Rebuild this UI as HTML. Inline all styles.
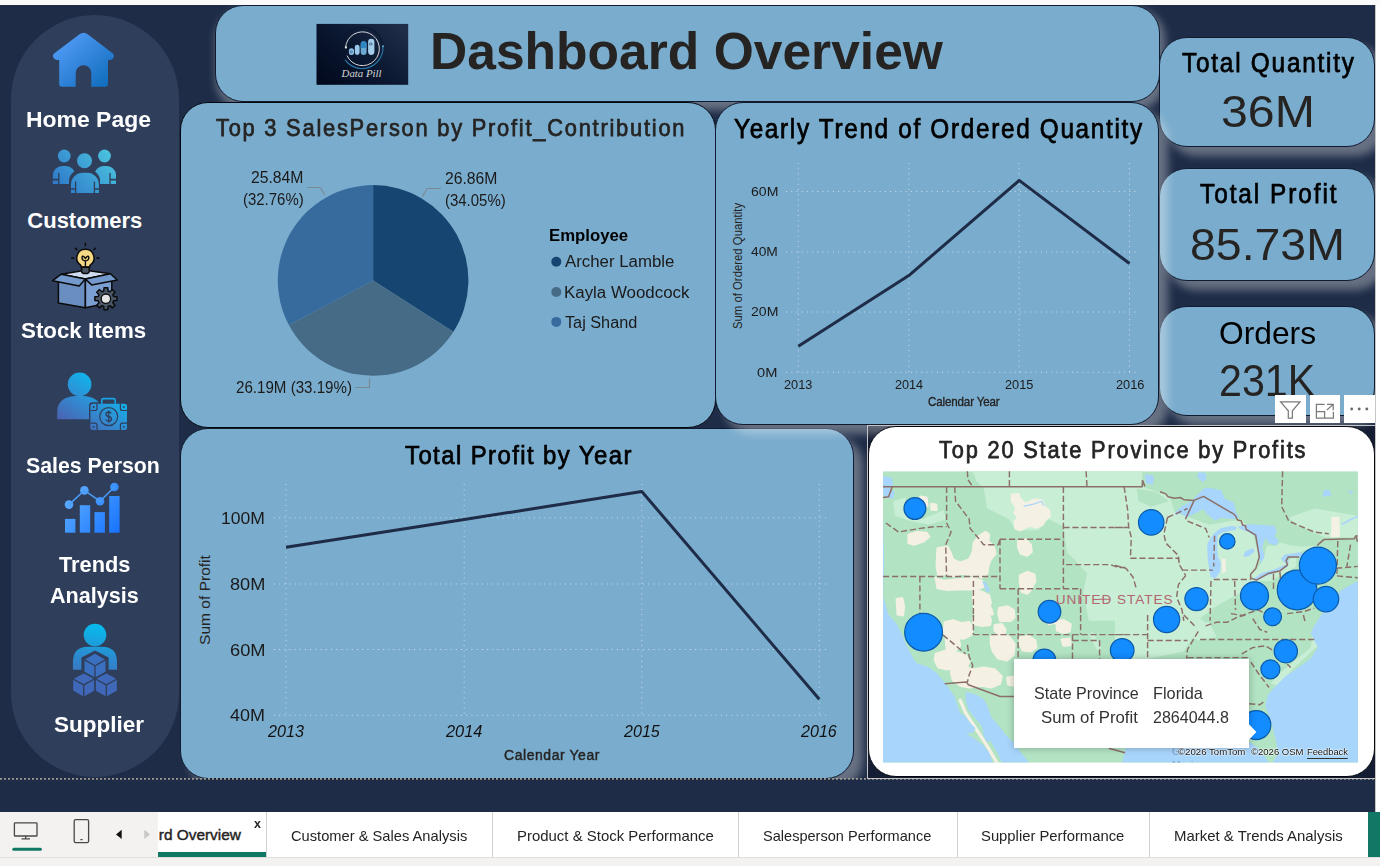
<!DOCTYPE html>
<html><head><meta charset="utf-8"><title>Dashboard Overview</title>
<style>
html,body{margin:0;padding:0}
body{width:1380px;height:866px;overflow:hidden;position:relative;background:#f3f2f1;font-family:"Liberation Sans",sans-serif;font-kerning:normal}
.abs{position:absolute}
.t{position:absolute;white-space:pre;line-height:1;font-kerning:normal;transform-origin:0 50%}
.pan{position:absolute;background:#7aaccd;border:1px solid #111a2e;border-radius:28px;box-sizing:border-box;box-shadow:9px 9px 9px rgba(255,255,255,.33)}
svg{position:absolute;overflow:visible}
</style></head><body>
<div class="abs" style="left:0;top:0;width:1380px;height:5px;background:#fafafa"></div>
<div id="canvas" class="abs" style="left:0;top:5px;width:1375px;height:807px;background:#1e2c47;overflow:hidden">
<div class="abs" style="left:11px;top:10px;width:168px;height:762px;border-radius:84px;background:#2f3e5a"></div>
</div>
<div class="abs" style="left:0;top:0;width:1375px;height:778.6px;overflow:hidden"><div class="abs" style="left:867.5px;top:425.5px;width:508px;height:353px;background:#141d33"></div><div class="pan" style="left:215px;top:5px;width:945px;height:97px;box-shadow:3px 6px 9px 1.5px rgba(255,255,255,.34);"></div>
<div class="pan" style="left:179.8px;top:102px;width:536.2px;height:326.2px;box-shadow:none;border:1.3px solid #05080f;"></div>
<div class="pan" style="left:179.8px;top:428.3px;width:674.0px;height:350.7px;"></div>
<div class="pan" style="left:1158.6px;top:37px;width:216.4000000000001px;height:110px;"></div>
<div class="pan" style="left:1158.6px;top:168px;width:216.4000000000001px;height:113px;"></div>
<div class="pan" style="left:1158.6px;top:306px;width:216.4000000000001px;height:110px;"></div>
<div class="pan" style="left:715px;top:102px;width:444px;height:323px;"></div>
</div><div class="t" style="left:430.45px;top:25.28px;font-size:52px;color:#252423;transform:scaleX(0.9916);font-weight:bold;">Dashboard Overview</div>
<svg style="left:0;top:0" width="1380" height="866"><defs><linearGradient id="lg1" x1="0" y1="0.85" x2="1" y2="0.15"><stop offset="0" stop-color="#020a1e"/><stop offset="0.55" stop-color="#0c1a33"/><stop offset="1" stop-color="#1f2d49"/></linearGradient></defs><rect x="316.5" y="23.9" width="91.7" height="60.9" fill="url(#lg1)"/><circle cx="362.2" cy="47.9" r="20.6" fill="none" stroke="#0a1830" stroke-width="1.6" opacity=".8"/><path d="M382.9,46.4 A20.8,20.8 0 0 1 345.2,59.8" fill="none" stroke="#2f7fb4" stroke-width="1.2" opacity=".9"/><circle cx="383" cy="46.2" r="1" fill="#69a8d4"/><path d="M345.6,47.4 A16.9,16.9 0 1 1 347,55.6" fill="none" stroke="#d4d6da" stroke-width="1"/><rect x="344.9" y="46.4" width="2" height="2" fill="#e8e8e8"/><rect x="348.9" y="48.3" width="5.1" height="6.6" rx="2.5" fill="#8cc2e6"/><rect x="354.8" y="44.7" width="4.8" height="10.2" rx="2.4" fill="#9acaea"/><rect x="360.7" y="41.2" width="5.9" height="13.7" rx="2.9" fill="#6aa9d4"/><path d="M360.7,48 V44.1 a2.95,2.95 0 0 1 5.9,0 V48 Z" fill="#2f86c0"/><rect x="368.1" y="38.8" width="6.3" height="16.1" rx="3.1" fill="#a3cdea"/><ellipse cx="370.8" cy="44" rx="1.5" ry="1" fill="none" stroke="#1c3555" stroke-width=".6"/><circle cx="351.3" cy="51.8" r="1.1" fill="none" stroke="#2a4a70" stroke-width=".6"/><text x="341.6" y="76.9" font-family="Liberation Serif,serif" font-style="italic" font-size="10.6" fill="#d6d6d6" textLength="40" lengthAdjust="spacingAndGlyphs">Data Pill</text></svg>
<div class="t" style="left:1181.51px;top:49.74px;font-size:27px;color:#000;letter-spacing:1.999px;transform:scaleX(0.9);-webkit-text-stroke:0.75px currentColor;">Total Quantity</div>
<div class="t" style="left:1221.01px;top:88.71px;font-size:45px;color:#252423;transform:scaleX(1.0723);">36M</div>
<div class="t" style="left:1199.51px;top:180.94px;font-size:27px;color:#000;letter-spacing:2.201px;transform:scaleX(0.9);-webkit-text-stroke:0.75px currentColor;">Total Profit</div>
<div class="t" style="left:1190.44px;top:221.91px;font-size:45px;color:#252423;transform:scaleX(1.0317);">85.73M</div>
<div class="t" style="left:1219.27px;top:317.98px;font-size:30.5px;color:#000;transform:scaleX(1.0415);">Orders</div>
<div class="t" style="left:1218.74px;top:358.31px;font-size:45px;color:#252423;transform:scaleX(0.9152);">231K</div>
<div class="t" style="left:215.56px;top:115.93px;font-size:24.3px;color:#252423;letter-spacing:1.953px;transform:scaleX(0.9);-webkit-text-stroke:0.75px currentColor;">Top 3 SalesPerson by Profit_Contribution</div>
<div class="t" style="left:734.31px;top:116.44px;font-size:27px;color:#000;letter-spacing:1.879px;transform:scaleX(0.9);-webkit-text-stroke:0.75px currentColor;">Yearly Trend of Ordered Quantity</div>
<div class="t" style="left:405.42px;top:442.08px;font-size:26.6px;color:#000;letter-spacing:1.572px;transform:scaleX(0.9);-webkit-text-stroke:0.75px currentColor;">Total Profit by Year</div>
<svg style="left:0;top:0" width="1380" height="866"><path d="M373.1,280.4 L373.10,185.10 A95.3,95.3 0 0 1 453.40,331.72 Z" fill="#174571"/><path d="M373.1,280.4 L453.40,331.72 A95.3,95.3 0 0 1 288.91,325.05 Z" fill="#456b86"/><path d="M373.1,280.4 L288.91,325.05 A95.3,95.3 0 0 1 373.10,185.10 Z" fill="#376b9e"/><path d="M422.4,196.4 L427.3,188.5 L441,188.5 M325.1,195.2 L320.2,187.5 L307.2,187.5 M369.5,378.2 L369.5,387.5 L355.2,387.5" fill="none" stroke="#7b8995" stroke-width="1.15"/><circle cx="556.3" cy="261.8" r="5" fill="#174571"/><circle cx="556.3" cy="292" r="5" fill="#456b86"/><circle cx="556.3" cy="321.9" r="5" fill="#376b9e"/></svg>
<div class="t" style="left:444.51px;top:170.66px;font-size:16px;color:#1a1a1a;transform:scaleX(0.9833);">26.86M</div>
<div class="t" style="left:444.70px;top:192.66px;font-size:16px;color:#1a1a1a;transform:scaleX(0.9343);">(34.05%)</div>
<div class="t" style="left:251.01px;top:170.06px;font-size:16px;color:#1a1a1a;transform:scaleX(0.9833);">25.84M</div>
<div class="t" style="left:242.80px;top:192.06px;font-size:16px;color:#1a1a1a;transform:scaleX(0.9343);">(32.76%)</div>
<div class="t" style="left:235.74px;top:380.46px;font-size:16px;color:#1a1a1a;transform:scaleX(0.9451);">26.19M (33.19%)</div>
<div class="t" style="left:548.71px;top:228.16px;font-size:16px;color:#000;transform:scaleX(1.0462);font-weight:bold;">Employee</div>
<div class="t" style="left:564.80px;top:254.36px;font-size:16px;color:#1a1a1a;transform:scaleX(1.0507);">Archer Lamble</div>
<div class="t" style="left:563.65px;top:284.76px;font-size:16px;color:#1a1a1a;transform:scaleX(1.0554);">Kayla Woodcock</div>
<div class="t" style="left:564.68px;top:315.16px;font-size:16px;color:#1a1a1a;transform:scaleX(1.0152);">Taj Shand</div>
<svg style="left:0;top:0" width="1380" height="866"><path d="M786,191.5 H1137 M786,252 H1137 M786,312 H1137 M786,372.3 H1137 M798.3,163 V372.3 M908.8,163 V372.3 M1019.2,163 V372.3 M1129.5,163 V372.3 " fill="none" stroke="rgba(255,255,255,.55)" stroke-width="1" stroke-dasharray="1.1 4.1"/><polyline points="798.3,346.3 908.8,275.6 1019.2,180.4 1129.5,263.5" fill="none" stroke="#1e2c47" stroke-width="3" stroke-linejoin="round" stroke-linecap="butt"/><path d="M273.8,517.8 H829.5 M273.8,584 H829.5 M273.8,649.5 H829.5 M273.8,715.3 H829.5 M286,484 V715.3 M464.2,484 V715.3 M641.8,484 V715.3 M819.3,484 V715.3 " fill="none" stroke="rgba(255,255,255,.55)" stroke-width="1" stroke-dasharray="1.1 4.1"/><polyline points="286,547.2 464.2,519.6 641.8,491.5 819.3,699.3" fill="none" stroke="#1e2c47" stroke-width="3" stroke-linejoin="round"/></svg>
<div class="t" style="left:750.50px;top:185.10px;font-size:13px;color:#1a1a1a;transform:scaleX(1.0807);">60M</div>
<div class="t" style="left:750.92px;top:245.20px;font-size:13px;color:#1a1a1a;transform:scaleX(1.0632);">40M</div>
<div class="t" style="left:750.50px;top:305.20px;font-size:13px;color:#1a1a1a;transform:scaleX(1.0807);">20M</div>
<div class="t" style="left:757.49px;top:365.90px;font-size:13px;color:#1a1a1a;transform:scaleX(1.1282);">0M</div>
<div class="t" style="left:784.06px;top:378.00px;font-size:13px;color:#1a1a1a;transform:scaleX(0.9800);">2013</div>
<div class="t" style="left:894.57px;top:378.00px;font-size:13px;color:#1a1a1a;transform:scaleX(0.9732);">2014</div>
<div class="t" style="left:1004.96px;top:378.00px;font-size:13px;color:#1a1a1a;transform:scaleX(0.9800);">2015</div>
<div class="t" style="left:1115.96px;top:378.00px;font-size:13px;color:#1a1a1a;transform:scaleX(0.9800);">2016</div>
<div class="t" style="left:927.62px;top:396.13px;font-size:12.6px;color:#252423;letter-spacing:-0.158px;transform:scaleX(0.92);-webkit-text-stroke:0.35px currentColor;">Calendar Year</div>
<div class="t" style="left:737.60px;top:266.40px;font-size:12.5px;color:#252423;transform:translate(-50%,-50%) rotate(-90deg) scaleX(0.9077);transform-origin:50% 50%">Sum of Ordered Quantity</div>
<div class="t" style="left:221.08px;top:510.00px;font-size:16.3px;color:#1a1a1a;transform:scaleX(1.0782);">100M</div>
<div class="t" style="left:229.77px;top:576.00px;font-size:16.3px;color:#1a1a1a;transform:scaleX(1.1161);">80M</div>
<div class="t" style="left:229.59px;top:641.50px;font-size:16.3px;color:#1a1a1a;transform:scaleX(1.1222);">60M</div>
<div class="t" style="left:230.14px;top:707.30px;font-size:16.3px;color:#1a1a1a;transform:scaleX(1.1040);">40M</div>
<div class="t" style="left:268.26px;top:723.33px;font-size:16.5px;color:#111;transform:scaleX(0.9784);font-style:italic;">2013</div>
<div class="t" style="left:446.36px;top:723.33px;font-size:16.5px;color:#111;transform:scaleX(0.9917);font-style:italic;">2014</div>
<div class="t" style="left:623.96px;top:723.33px;font-size:16.5px;color:#111;transform:scaleX(0.9740);font-style:italic;">2015</div>
<div class="t" style="left:801.46px;top:723.33px;font-size:16.5px;color:#111;transform:scaleX(0.9740);font-style:italic;">2016</div>
<div class="t" style="left:503.90px;top:746.93px;font-size:15.2px;color:#252423;letter-spacing:0.621px;transform:scaleX(0.92);-webkit-text-stroke:0.45px currentColor;">Calendar Year</div>
<div class="t" style="left:205.30px;top:599.80px;font-size:15.5px;color:#252423;transform:translate(-50%,-50%) rotate(-90deg) scaleX(1.0021);transform-origin:50% 50%">Sum of Profit</div>
<div class="t" style="left:25.81px;top:109.08px;font-size:22px;color:#ffffff;transform:scaleX(1.0425);font-weight:bold;">Home Page</div>
<div class="t" style="left:27.32px;top:209.98px;font-size:22px;color:#ffffff;font-weight:bold;">Customers</div>
<div class="t" style="left:21.24px;top:319.58px;font-size:22px;color:#ffffff;transform:scaleX(1.0139);font-weight:bold;">Stock Items</div>
<div class="t" style="left:25.67px;top:455.08px;font-size:22px;color:#ffffff;transform:scaleX(0.9685);font-weight:bold;">Sales Person</div>
<div class="t" style="left:58.78px;top:553.98px;font-size:22px;color:#ffffff;transform:scaleX(0.9906);font-weight:bold;">Trends</div>
<div class="t" style="left:49.76px;top:585.08px;font-size:22px;color:#ffffff;transform:scaleX(0.9820);font-weight:bold;">Analysis</div>
<div class="t" style="left:53.74px;top:713.58px;font-size:22px;color:#ffffff;transform:scaleX(1.0239);font-weight:bold;">Supplier</div>
<svg style="left:0;top:0" width="1380" height="866"><defs><linearGradient id="gh" x1="0" y1="0" x2="1" y2="1"><stop offset="0" stop-color="#5aa2ff"/><stop offset="1" stop-color="#0b69b8"/></linearGradient><linearGradient id="gc" gradientUnits="userSpaceOnUse" x1="56" y1="196" x2="112" y2="150"><stop offset="0" stop-color="#2c72c8"/><stop offset="1" stop-color="#4cc6de"/></linearGradient><linearGradient id="gs" gradientUnits="userSpaceOnUse" x1="108" y1="374" x2="72" y2="428"><stop offset="0" stop-color="#00c6f4"/><stop offset="0.55" stop-color="#2f8fd4"/><stop offset="1" stop-color="#4a62b2"/></linearGradient><linearGradient id="gt" gradientUnits="userSpaceOnUse" x1="66" y1="488" x2="120" y2="532"><stop offset="0" stop-color="#62b1ff"/><stop offset="1" stop-color="#1673ff"/></linearGradient><linearGradient id="gp" gradientUnits="userSpaceOnUse" x1="98" y1="624" x2="90" y2="690"><stop offset="0" stop-color="#05bcee"/><stop offset="0.55" stop-color="#2f86cc"/><stop offset="1" stop-color="#4466b6"/></linearGradient></defs><path d="M79.5,34.3 q4.1,-3.3 8.2,0 L112.6,53.2 q2.2,1.8 1,4.4 q-1,2.4 -3.6,2.4 H108 V84 q0,2.8 -2.8,2.8 H91.3 V73 a7.8,7.8 0 0 0 -15.6,0 V86.8 H62 q-2.8,0 -2.8,-2.8 V60 H57 q-2.6,0 -3.6,-2.4 q-1.2,-2.6 1,-4.4 Z" fill="url(#gh)"/><g fill="url(#gc)"><g><circle cx="64.2" cy="156" r="6.4"/><path d="M52.8,184 V175.45 a9.45,9.45 0 0 1 9.45,-9.45 H65.85 a9.45,9.45 0 0 1 9.45,9.45 V184 Z"/><circle cx="104.5" cy="156" r="6.4"/><path d="M94.4,184 V175.072 a9.071999999999997,9.071999999999997 0 0 1 9.071999999999997,-9.071999999999997 H106.928 a9.071999999999997,9.071999999999997 0 0 1 9.071999999999997,9.071999999999997 V184 Z"/></g></g><g fill="#2f3e5a"><circle cx="84.5" cy="160.7" r="9.3"/><path d="M69,195 V181 a11,11 0 0 1 11,-11 H89 a11,11 0 0 1 11,11 V195 Z"/></g><g fill="url(#gc)"><circle cx="84.5" cy="160.7" r="7.5"/><path d="M71,193 V184.518 a11.718000000000002,11.718000000000002 0 0 1 11.718000000000002,-11.718000000000002 H87.182 a11.718000000000002,11.718000000000002 0 0 1 11.718000000000002,11.718000000000002 V193 Z"/></g><g stroke="#2f3e5a" stroke-width="1.3" fill="none"><path d="M58.8,173 V184 M75.6,181.5 V193 M94.4,181.5 V193 M110,173 V184"/><path d="M52,179.6 H58.8 M110,179.6 H117 M70,189 H75.6 M94.4,189 H100" stroke-width="1.6"/></g><g stroke="#0b0b0b" stroke-width="1.5" stroke-linejoin="round"><path d="M61.2,274.2 L85.4,270.3 L110.4,273.8 L85.4,279.1 Z" fill="#cfdcf0"/><path d="M58.4,281.5 V302.9 L85.4,307.7 V279.1 Z" fill="#6a8ec0"/><path d="M85.4,279.1 V307.7 L111.8,302.2 V281.5 Z" fill="#7b9fd2"/><path d="M52.6,280.7 L61.2,274.2 L85.4,279.1 L79.2,286 Z" fill="#7399cd"/><path d="M85.4,279.1 L110.4,273.8 L117.3,280 L91.7,284.9 Z" fill="#7399cd"/></g><g stroke="#0b0b0b" stroke-width="1.5" stroke-linecap="round"><path d="M85.4,243.3 V245.6 M75.3,248.2 L77,249.8 M95.5,248.2 L93.8,249.8 M71.6,258 H73.8 M97,258 H99.2" fill="none"/><path d="M85.4,249.3 a8.6,8.6 0 0 1 5,15.6 q-0.8,0.8 -0.8,2 H81.2 q0,-1.2 -0.8,-2 a8.6,8.6 0 0 1 5,-15.6 Z" fill="#f5d984"/><path d="M81.6,267.2 H89.2 V271.2 q0,2.4 -3.8,2.4 q-3.8,0 -3.8,-2.4 Z" fill="#4a5563"/><path d="M85.4,266 V261 M85.4,261 q-3.6,-0.6 -3.4,-3.6 q0.4,-2 2,-0.6 l1.4,1.6 l1.4,-1.6 q1.6,-1.4 2,0.6 q0.2,3 -3.4,3.6" fill="none" stroke-width="1.4"/></g><path d="M113.61,296.57 L116.94,296.81 L116.94,300.59 L113.61,300.83 L112.86,302.64 L115.05,305.17 L112.37,307.85 L109.84,305.66 L108.03,306.41 L107.79,309.74 L104.01,309.74 L103.77,306.41 L101.96,305.66 L99.43,307.85 L96.75,305.17 L98.94,302.64 L98.19,300.83 L94.86,300.59 L94.86,296.81 L98.19,296.57 L98.94,294.76 L96.75,292.23 L99.43,289.55 L101.96,291.74 L103.77,290.99 L104.01,287.66 L107.79,287.66 L108.03,290.99 L109.84,291.74 L112.37,289.55 L115.05,292.23 L112.86,294.76 Z" fill="#4a5766" stroke="#0b0b0b" stroke-width="1.5" stroke-linejoin="round"/><circle cx="105.9" cy="298.7" r="4.7" fill="#e4e4e4" stroke="#0b0b0b" stroke-width="1.3"/><g fill="url(#gs)"><circle cx="79.6" cy="384.3" r="11.8"/><path d="M57.2,419.3 V412 q0,-16.2 22.4,-16.2 q15.4,0 20.4,8 V419.3 Z"/></g><rect x="89" y="402.3" width="39.4" height="29.1" rx="3.4" fill="#2f3e5a"/><rect x="99.8" y="396.7" width="17.4" height="8" rx="2.4" fill="#2f3e5a"/><g><rect x="90.4" y="403.7" width="36.6" height="26.3" rx="2.6" fill="url(#gs)"/><path d="M101.8,403.7 V400.2 q0,-1.6 1.6,-1.6 H113.6 q1.6,0 1.6,1.6 V403.7" fill="none" stroke="#17a4e4" stroke-width="1.6"/><g fill="none" stroke="#2f3e5a" stroke-width="1.2"><circle cx="108.7" cy="416.6" r="9"/><path d="M90.4,410.5 H95 q2,0 2,-2 V403.7 M127,410.5 H122.4 q-2,0 -2,-2 V403.7 M90.4,423.2 H95 q2,0 2,2 V430 M127,423.2 H122.4 q-2,0 -2,2 V430"/><path d="M111.2,413.6 q-0.6,-1.6 -2.6,-1.6 q-2.6,0 -2.6,2.2 q0,1.8 2.6,2.3 q2.8,0.5 2.8,2.4 q0,2.2 -2.8,2.2 q-2.2,0 -2.8,-1.7 M108.7,410.4 V422.8" stroke-width="1.3"/></g><g fill="#2f3e5a"><circle cx="93.6" cy="407" r="0.9"/><circle cx="123.8" cy="407" r="0.9"/><circle cx="93.6" cy="426.8" r="0.9"/><circle cx="123.8" cy="426.8" r="0.9"/></g></g><g fill="url(#gt)"><rect x="65" y="518.9" width="10.4" height="13.8"/><rect x="79.8" y="505.2" width="10.4" height="27.5"/><rect x="94.5" y="512.1" width="10.4" height="20.6"/><rect x="109.2" y="496" width="10.4" height="36.7"/><circle cx="69" cy="504.6" r="4.3"/><circle cx="84.4" cy="490.4" r="4.3"/><circle cx="100" cy="501.2" r="4.3"/><circle cx="114.4" cy="487" r="4.3"/></g><polyline points="69,504.6 84.4,490.4 100,501.2 114.4,487" fill="none" stroke="#4a9bf5" stroke-width="1.6"/><g fill="url(#gp)"><circle cx="95" cy="635.1" r="11.3"/><path d="M72.9,669.8 V662 q0,-15.3 15,-15.3 H102 q15,0 15,15.3 V669.8 Z"/></g><path d="M95,650.4 L108.6,657.4 V672 L95,679 L81.4,672 V657.4 Z" fill="#2f3e5a"/><path d="M95,653 L106.15,659.35 V672.05 L95,678.4 L83.85,672.05 V659.35 Z" fill="#3b70c0" stroke="#2f3e5a" stroke-width="1.3" stroke-linejoin="round"/><path d="M83.85,659.35 L95,665.7 L106.15,659.35 M95,665.7 V678.4" fill="none" stroke="#2f3e5a" stroke-width="1.3"/><path d="M83.7,672.6 L94.85000000000001,678.75 V691.0500000000001 L83.7,697.2 L72.55,691.0500000000001 V678.75 Z" fill="#4068b8" stroke="#2f3e5a" stroke-width="1.3" stroke-linejoin="round"/><path d="M72.55,678.75 L83.7,684.9 L94.85000000000001,678.75 M83.7,684.9 V697.2" fill="none" stroke="#2f3e5a" stroke-width="1.3"/><path d="M106.3,672.6 L117.45,678.75 V691.0500000000001 L106.3,697.2 L95.14999999999999,691.0500000000001 V678.75 Z" fill="#4068b8" stroke="#2f3e5a" stroke-width="1.3" stroke-linejoin="round"/><path d="M95.14999999999999,678.75 L106.3,684.9 L117.45,678.75 M106.3,684.9 V697.2" fill="none" stroke="#2f3e5a" stroke-width="1.3"/></svg>
<svg style="left:0;top:0" width="1380" height="866"><path d="M0,778.9 H1375" stroke="#a49f90" stroke-width="1.7" stroke-dasharray="1.9 2.1" fill="none"/></svg><div class="abs" style="left:0;top:812px;width:1380px;height:45px;background:#f3f2f1"></div><div class="abs" style="left:158px;top:812px;width:1209.5px;height:45px;background:#fff"></div><div class="abs" style="left:1367.5px;top:812px;width:12.5px;height:45px;background:#117865"></div><div class="abs" style="left:158px;top:852.4px;width:108.3px;height:4.6px;background:#117865"></div><div class="abs" style="left:0;top:857px;width:1380px;height:1px;background:#e1dfdd"></div><div class="abs" style="left:0;top:858px;width:1380px;height:8px;background:#f3f2f1"></div><div class="abs" style="left:266.3px;top:812px;width:1px;height:45px;background:#d2d0ce"></div><div class="abs" style="left:492px;top:812px;width:1px;height:45px;background:#d2d0ce"></div><div class="abs" style="left:738.3px;top:812px;width:1px;height:45px;background:#d2d0ce"></div><div class="abs" style="left:956.5px;top:812px;width:1px;height:45px;background:#d2d0ce"></div><div class="abs" style="left:1149.3px;top:812px;width:1px;height:45px;background:#d2d0ce"></div><div class="abs" style="left:158px;top:812px;width:108px;height:40px;overflow:hidden"><div class="t" style="left:0.80px;top:15.46px;font-size:15.4px;color:#252423;-webkit-text-stroke:0.45px currentColor;">rd Overview</div>
</div><div class="t" style="left:254.24px;top:817.46px;font-size:13.4px;color:#252423;transform:scaleX(0.9311);font-weight:bold;">x</div>
<div class="t" style="left:291.27px;top:827.60px;font-size:15px;color:#252423;transform:scaleX(0.9787);">Customer &amp; Sales Analysis</div>
<div class="t" style="left:516.80px;top:827.60px;font-size:15px;color:#252423;transform:scaleX(0.9962);">Product &amp; Stock Performance</div>
<div class="t" style="left:763.35px;top:827.60px;font-size:15px;color:#252423;transform:scaleX(0.9702);">Salesperson Performance</div>
<div class="t" style="left:981.33px;top:827.60px;font-size:15px;color:#252423;transform:scaleX(0.9877);">Supplier Performance</div>
<div class="t" style="left:1173.80px;top:827.60px;font-size:15px;color:#252423;transform:scaleX(0.9967);">Market &amp; Trends Analysis</div>
<svg style="left:0;top:0" width="1380" height="866"><g fill="none" stroke="#4a4846" stroke-width="1.3"><rect x="14.4" y="822.8" width="22.6" height="13.2" rx="0.6"/><path d="M25.7,836 V838.6 M21.5,838.8 H30"/><rect x="74.2" y="819.6" width="14.4" height="23" rx="1.6"/><path d="M80.4,839.6 H82.6"/></g><rect x="12.3" y="847.8" width="29.6" height="3" rx="1.5" fill="#117865"/><path d="M116,834.4 L121.7,829.8 V839 Z" fill="#111"/><path d="M150,834.4 L144.3,829.8 V839 Z" fill="#c8c6c4"/></svg>
<div class="abs" style="left:867px;top:425px;width:508.5px;height:353.5px;border:1px solid #c4c4c4;box-sizing:border-box"></div><div class="abs" style="left:868px;top:426px;width:506.6px;height:351.4px;background:#fff;border-radius:28px;border:1.2px solid #05080f;box-sizing:border-box"></div><div class="t" style="left:939.36px;top:438.31px;font-size:24.2px;color:#252423;letter-spacing:2.031px;transform:scaleX(0.9);-webkit-text-stroke:0.75px currentColor;">Top 20 State Province by Profits</div>
<svg style="left:0;top:0" width="1380" height="866"><defs><clipPath id="mc"><rect x="883" y="471.2" width="475" height="291.50000000000006"/></clipPath><filter id="soft" x="-5%" y="-5%" width="110%" height="110%"><feGaussianBlur stdDeviation="0.55"/></filter></defs><g clip-path="url(#mc)"><rect x="883" y="471.2" width="475" height="291.50000000000006" fill="#b2e3c3"/><path d="M972.8,471.0 L1125.0,471.0 L1125.0,620.8 L1088.8,620.8 L1083.3,591.8 L1087.0,573.7 L1067.0,552.0 L1063.4,526.6 L1063.4,488.6 L983.7,488.6 L976.4,481.3 Z M1115.0,471.0 L1142.2,471.0 L1142.2,486.7 L1169.3,495.8 L1174.8,512.1 L1209.2,524.8 L1241.8,519.3 L1252.7,533.8 L1259.9,559.2 L1250.9,577.3 L1278.0,566.4 L1296.2,555.6 L1296.2,566.4 L1270.8,580.9 L1252.7,580.9 L1241.8,591.8 L1216.4,606.3 L1196.5,620.8 L1115.0,620.8 Z M1115.0,615.0 L1196.5,615.0 L1209.2,625.9 L1192.9,636.7 L1183.8,651.2 L1147.6,659.0 L1115.0,659.0 Z M983.7,488.6 L1063.4,488.6 L1063.4,526.6 L1048.9,519.3 L1038.0,530.2 L1016.3,530.2 L1009.1,519.3 L987.3,508.5 Z M893.1,501.2 L905.8,497.6 L904.0,512.1 L922.1,519.3 L943.8,510.3 L945.7,519.3 L929.3,524.8 L911.2,521.2 L894.9,515.7 Z M1288.9,517.5 L1314.3,508.5 L1357.8,515.7 L1357.8,537.5 L1325.1,537.5 L1296.2,524.8 Z M1292.5,669.3 L1317.9,645.8 L1321.5,625.9 L1314.3,625.9 L1310.7,647.6 L1288.9,665.7 L1278.0,674.8 L1270.8,683.8 L1278.0,685.7 Z M1187.5,622.2 L1209.2,622.2 L1216.4,636.7 L1198.3,640.4 L1187.5,634.9 Z M1261.4,562.8 L1264.3,555.5 L1267.2,545.4 L1275.9,546.1 L1280.3,542.5 L1290.4,545.4 L1304.9,546.8 L1317.2,545.4 L1299.1,552.6 L1284.6,554.8 L1281.0,558.4 L1284.6,564.2 L1274.5,569.3 L1261.4,573.2 L1254.2,578.0 L1251.3,574.3 L1256.4,570.0 Z" fill="#c9eed6"/><path d="M1216.4,608.1 L1241.8,604.5 L1263.6,609.9 L1278.0,620.8 L1216.4,620.8 Z M1136.7,488.6 L1156.7,492.2 L1169.3,501.2 L1151.2,506.7 L1138.6,501.2 Z M1063.4,552.0 L1074.3,559.2 L1087.0,573.7 L1081.5,580.9 L1067.0,573.7 Z" fill="#b2e3c3"/><path d="M920.3,496.7 L926.6,497.6 L927.5,505.8 L921.2,506.7 Z M931.2,503.9 L936.2,504.5 L936.6,509.9 L931.5,509.6 Z M908.5,534.7 L916.7,532.0 L926.6,532.9 L929.3,536.6 L923.9,541.1 L913.9,544.7 L908.5,542.9 Z M937.5,548.3 L947.5,546.5 L951.1,553.8 L952.9,559.2 L960.1,562.8 L969.2,559.2 L972.8,552.0 L973.7,542.9 L978.3,536.6 L985.5,532.0 L989.1,534.7 L988.2,541.1 L993.7,546.5 L995.5,553.8 L990.9,559.2 L988.2,566.4 L987.3,573.7 L981.9,577.3 L972.8,575.5 L962.0,573.7 L952.9,576.4 L946.6,573.7 L938.4,575.5 L936.6,566.4 Z M935.7,578.2 L943.8,580.9 L960.1,579.1 L972.8,578.2 L981.9,580.9 L983.7,586.4 L976.4,590.0 L962.0,589.1 L947.5,590.0 L937.5,588.2 Z M973.7,590.0 L981.9,591.8 L989.1,595.4 L990.9,602.7 L988.2,609.9 L990.9,620.8 L976.4,620.8 L974.6,609.9 L972.8,599.1 Z M1011.8,494.9 L1018.1,494.0 L1019.9,498.5 L1025.4,503.9 L1034.4,499.4 L1041.7,500.3 L1044.4,506.7 L1048.9,510.3 L1049.8,516.6 L1045.3,519.3 L1042.6,524.8 L1036.2,527.5 L1029.0,525.7 L1019.9,530.2 L1015.4,528.4 L1014.5,522.1 L1018.1,517.5 L1014.5,513.0 L1016.3,507.6 L1011.8,501.2 Z M1018.1,541.1 L1025.4,539.3 L1030.8,544.7 L1031.7,552.0 L1027.2,555.6 L1020.8,553.8 L1018.1,547.4 Z M1019.9,575.5 L1027.2,571.9 L1034.4,574.6 L1035.3,580.9 L1030.8,590.0 L1027.2,593.6 L1021.7,591.8 L1019.9,582.8 Z M999.1,608.1 L1007.2,606.3 L1013.6,609.9 L1014.5,617.2 L1010.9,620.8 L1000.0,620.8 L998.2,613.6 Z M896.7,599.1 L902.2,598.2 L904.0,606.3 L903.1,615.4 L897.6,614.5 Z M944.7,622.2 L952.9,620.4 L962.0,623.2 L969.2,622.2 L972.8,627.7 L971.0,634.9 L963.8,638.6 L954.7,637.6 L947.5,639.5 L943.8,633.1 Z M972.8,618.6 L983.7,617.7 L990.9,620.4 L990.0,625.0 L981.9,625.9 L973.7,624.1 Z M994.6,625.0 L1001.8,624.1 L1005.4,629.5 L1004.5,634.9 L998.2,634.0 L994.6,630.4 Z M935.7,653.9 L943.8,651.2 L954.7,652.1 L965.6,654.9 L969.2,662.1 L965.6,669.3 L956.5,667.5 L947.5,669.3 L938.4,667.5 L934.8,660.3 Z M952.0,667.5 L962.0,665.7 L972.8,669.3 L983.7,667.5 L994.6,669.3 L1001.8,676.6 L1000.0,683.8 L990.9,687.5 L981.9,685.7 L969.2,687.5 L960.1,685.7 L952.9,680.2 L951.1,673.0 Z M990.9,636.7 L1000.0,634.9 L1009.1,636.7 L1014.5,644.0 L1013.6,654.9 L1007.2,660.3 L998.2,658.5 L992.8,651.2 L990.9,644.0 Z M1019.9,637.6 L1029.0,635.8 L1035.3,640.4 L1036.2,647.6 L1030.8,651.2 L1022.6,650.3 L1019.9,644.0 Z M1056.2,621.3 L1063.4,620.1 L1070.7,624.1 L1069.7,631.3 L1063.4,633.1 L1057.1,630.4 Z M1061.6,639.5 L1069.7,638.6 L1070.7,644.9 L1063.4,645.8 Z M1045.3,615.0 L1058.0,615.0 L1057.1,622.2 L1048.9,624.1 Z M1007.2,677.5 L1014.5,676.6 L1014.5,685.7 L1008.2,684.7 Z M916.7,626.8 L925.7,625.0 L934.8,629.5 L933.0,636.7 L923.9,638.6 L917.6,634.9 Z M945.7,637.6 L958.3,636.7 L960.1,645.8 L954.7,651.2 L946.6,649.4 Z M976.4,609.6 L990.9,607.8 L992.8,614.1 L983.7,615.9 Z" fill="#f4f1e4" stroke="#f4f1e4" stroke-width="2.2" stroke-linejoin="round" filter="url(#soft)"/><path d="M960.1,700.1 L965.6,712.8 L977.4,730.9 L989.1,749.1 L996.7,762.6" fill="none" stroke="#f4f1e4" stroke-width="3.2" stroke-linecap="round"/><path d="M1090.6,633.1 L1099.6,649.4" fill="none" stroke="#c9eed6" stroke-width="5"/><path d="M883.0,513.6 L884.1,560.7 L883.3,596.9 L888.6,615.0 L896.7,624.1 L902.2,634.9 L906.7,645.8 L913.9,659.4 L916.7,663.0 L929.3,667.5 L936.6,673.0 L945.7,683.8 L954.7,696.5 L957.4,705.6 L960.1,712.8 L965.6,716.4 L971.0,723.7 L975.5,728.2 L972.8,732.8 L966.5,733.7 L976.4,740.0 L983.7,745.4 L989.1,752.7 L992.8,762.6 L883.0,762.6 Z M883.0,475.9 L892.2,477.7 L893.1,484.9 L889.5,488.6 L894.9,492.2 L893.1,498.5 L885.9,497.6 L883.0,494.0 Z M965.6,692.0 L976.4,694.7 L983.7,699.2 L987.3,705.6 L990.9,716.4 L1000.0,727.3 L1005.4,734.6 L1012.7,741.8 L1019.9,750.9 L1029.0,762.6 L1001.8,762.6 L998.2,754.5 L990.9,741.8 L983.7,730.9 L980.1,723.7 L973.7,716.4 L968.3,709.2 L965.6,700.1 Z M1125.9,747.2 L1169.3,740.0 L1191.1,741.8 L1223.7,738.2 L1241.8,740.0 L1249.1,741.8 L1258.1,748.2 L1261.7,752.7 L1267.2,759.9 L1269.0,762.6 L1122.2,762.6 L1123.7,756.3 Z M1322.4,613.2 L1314.3,625.9 L1310.7,633.1 L1317.9,647.6 L1310.7,658.5 L1296.2,669.3 L1285.3,676.6 L1274.4,687.5 L1268.1,694.7 L1265.4,705.6 L1269.0,716.4 L1272.6,727.3 L1276.2,741.8 L1278.0,752.7 L1274.4,759.9 L1272.6,762.6 L1357.8,762.6 L1357.8,613.2 Z M1357.8,580.9 L1341.4,590.0 L1328.8,602.7 L1323.3,612.6 L1322.4,620.8 L1357.8,620.8 Z M1174.5,513.5 L1181.7,506.2 L1191.2,501.2 L1203.5,488.8 L1207.8,487.4 L1220.9,490.3 L1225.2,499.0 L1233.9,502.6 L1236.1,512.0 L1239.0,517.8 L1232.5,519.3 L1220.9,517.8 L1215.1,520.7 L1206.4,513.5 L1203.5,509.1 L1194.8,513.5 L1186.1,517.8 L1181.7,513.5 L1175.9,514.9 Z M1207.1,543.9 L1210.7,538.1 L1214.3,533.0 L1220.9,528.0 L1232.5,525.8 L1236.8,527.2 L1235.4,530.1 L1229.6,530.9 L1223.8,532.3 L1218.0,535.2 L1217.2,545.4 L1218.0,557.0 L1220.9,562.8 L1220.1,571.4 L1215.8,578.0 L1210.7,577.2 L1209.3,570.0 L1207.8,559.9 Z M1237.5,526.5 L1249.9,524.3 L1264.3,525.1 L1274.5,525.8 L1276.7,532.3 L1274.5,535.9 L1278.8,541.0 L1275.9,545.4 L1268.7,543.2 L1265.8,538.1 L1263.6,542.5 L1262.2,549.0 L1264.6,554.8 L1263.6,559.1 L1260.7,562.8 L1258.6,557.0 L1257.1,546.8 L1254.9,535.9 L1247.0,531.6 L1240.4,529.1 Z M1243.3,555.5 L1245.5,551.2 L1252.8,548.3 L1254.9,551.2 L1249.9,555.5 L1245.5,557.0 Z M1253.5,578.7 L1261.4,573.2 L1274.5,569.3 L1284.6,564.9 L1288.3,564.2 L1287.5,567.1 L1275.9,572.2 L1264.3,576.5 L1256.4,580.9 Z M1281.0,558.4 L1284.6,554.8 L1299.1,552.6 L1304.9,553.3 L1304.9,557.0 L1287.5,557.7 L1289.0,563.5 L1284.6,562.8 Z M1198.4,472.2 L1205.7,472.9 L1206.4,478.7 L1202.8,482.3 L1197.0,476.5 Z M1323.8,490.3 L1328.8,489.6 L1331.7,495.4 L1322.3,496.8 Z M1347.0,490.3 L1353.5,491.7 L1351.3,494.6 Z M1144.9,474.1 L1153.9,475.9 L1153.0,484.9 L1145.8,483.1 Z M981.9,730.9 L985.5,732.8 L990.0,740.9 L986.4,741.8 Z" fill="#a8d5fb"/><path d="M1341.9,524.3 L1349.9,520.0 L1357.8,516.1" fill="none" stroke="#a8d5fb" stroke-width="1.6"/><path d="M1331.4,517.1 L1339.4,516.7 L1340.0,536.7 L1331.0,537.4 Z" fill="#f4f1e4"/><path d="M1221.6,558.7 L1225.5,559.1 L1225.9,571.4 L1222.3,573.2 Z" fill="#f4f1e4" filter="url(#soft)"/><path d="M981.9,580.9 L985.9,582.4 L990.2,590.9 L987.0,592.2 Z" fill="#a8d5fb"/><path d="M1023.6,506.3 L1034.4,503.9 L1041.7,501.2 L1043.5,505.8" fill="none" stroke="#a8d5fb" stroke-width="1.2"/><path d="M883.0,486.7 L1125.0,486.7 M1115.0,486.7 L1142.2,486.7 L1142.5,480.4 L1144.9,486.4 M1160.0,491.7 L1165.8,493.9 L1168.0,496.8 L1174.5,498.3 L1180.3,497.5 L1183.9,499.7 L1194.1,500.4 L1203.5,496.4 L1233.9,514.2 L1235.4,515.7 L1237.5,520.0 L1241.2,520.7 L1242.6,525.1 L1245.5,525.8 L1246.2,529.4 L1255.7,535.2 L1259.3,557.0 L1255.7,568.6 L1250.6,574.3 L1250.6,578.0 L1256.4,580.1 L1268.0,573.6 L1280.3,570.7 L1287.5,564.9 L1286.1,560.6 L1288.3,557.0 L1299.1,557.0 M1317.2,545.4 L1323.8,539.6 L1354.2,538.8 L1355.7,535.9 L1357.8,535.9 M1194.1,500.4 L1185.4,519.3 M944.7,683.8 L966.5,682.0 L968.3,684.7 L1000.0,696.5 L1014.5,696.5 M1108.7,748.2 L1125.0,752.7 M883.0,497.6 L888.6,496.7 L892.2,486.7 L890.4,492.2" fill="none" stroke="#8c6f69" stroke-width="1.5" stroke-linejoin="round"/><path d="M946.6,486.7 L946.6,523.0 L951.1,532.0 L945.7,544.7 L946.6,576.4 M954.7,486.7 L955.6,501.2 L969.2,519.3 L970.1,528.4 L976.4,535.7 L983.7,544.7 L998.2,544.7 L1000.0,539.3 M885.9,523.0 L898.6,532.0 L920.3,528.4 L934.8,526.6 L946.6,526.6 M1000.0,539.3 L1063.4,539.3 M1063.4,486.7 L1063.4,588.7 M1063.4,527.5 L1125.0,527.5 M1066.1,564.6 L1110.5,564.6 L1117.8,567.4 L1125.0,567.4 M1000.0,539.3 L1000.0,588.7 M1000.0,588.7 L1080.6,588.7 M883.0,576.4 L998.2,576.4 M919.9,576.4 L919.9,620.8 M973.4,580.9 L973.4,620.8 M1018.1,588.7 L1018.1,620.8 M1080.6,588.7 L1080.6,620.8 M967.4,471.0 L967.8,479.5 L972.8,486.7 M1009.4,471.0 L1009.4,486.7 M1086.1,471.0 L1087.0,486.7 M1124.1,486.7 L1127.7,510.3 L1128.6,526.6 L1131.3,537.5 L1130.4,558.3 M1115.0,527.5 L1128.6,527.5 M1130.4,558.3 L1178.4,558.3 L1179.3,564.6 M1167.5,517.5 L1163.9,533.8 L1165.7,542.9 L1178.4,555.6 L1179.3,564.6 L1185.7,575.5 M1187.5,521.2 L1205.6,528.4 L1209.2,537.5 M1167.5,517.5 L1187.5,508.5 M1115.0,565.5 L1125.9,568.3 L1133.1,577.3 L1136.7,590.0 M1182.0,570.1 L1212.8,570.1 M1185.7,575.5 L1178.4,584.6 L1176.6,597.2 L1182.0,609.9 L1183.8,620.8 M1211.0,580.9 L1210.1,620.8 M1213.7,579.5 L1250.9,579.5 M1234.6,580.9 L1235.5,609.9 M1273.5,573.7 L1273.5,591.8 M1279.9,571.9 L1280.8,582.8 M1282.6,471.0 L1281.7,506.7 L1288.9,521.2 L1314.3,532.0 L1328.8,533.8 M1337.8,541.1 L1336.9,573.7 M1350.5,544.7 L1346.9,566.4 M1336.0,568.3 L1357.8,566.4 M1336.9,575.9 L1357.8,577.7 M1214.6,535.7 L1213.7,566.4 M1230.9,613.6 L1241.8,615.4 L1258.1,609.9 L1269.0,615.4 M1287.1,613.6 L1303.4,611.7 L1314.3,608.1 M1355.9,535.7 L1357.8,542.9 M942.9,634.9 L965.6,653.9 M973.4,615.0 L973.4,634.6 M973.4,634.6 L1125.0,634.6 M967.4,644.9 L969.2,656.7 L972.8,665.7 L969.2,674.8 L967.4,682.0 M1018.1,615.0 L1018.1,659.0 M1080.6,615.0 L1080.6,634.6 M1072.5,634.6 L1072.5,659.0 M1072.5,640.4 L1099.6,640.4 L1099.6,659.0 M1115.0,634.6 L1147.6,634.6 M1147.6,615.0 L1147.6,659.0 M1147.6,640.4 L1187.5,640.4 M1198.3,631.3 L1192.9,640.4 L1187.5,649.4 L1186.6,658.5 M1200.1,639.5 L1314.3,639.5 M1187.5,657.6 L1249.1,657.6 M1205.6,625.9 L1216.4,622.2 L1227.3,622.2 L1238.2,616.8 L1245.4,615.0 M1252.7,618.6 L1259.9,629.5 L1267.2,632.2 M1241.8,653.9 L1252.7,647.6 L1265.4,645.8 L1274.4,651.2 L1290.7,667.5 M1250.9,662.1 L1258.1,673.0 L1269.0,687.5 M1249.1,703.8 L1259.9,704.7 L1263.6,702.0 M1303.4,615.0 L1305.2,622.2 M1183.8,615.0 L1194.7,625.9" fill="none" stroke="#8c6f69" stroke-width="1.45" stroke-dasharray="6.2 2.8" stroke-linejoin="round"/><text x="1055.8" y="603.8" font-family="Liberation Sans,sans-serif" font-size="13.6" textLength="116.8" lengthAdjust="spacing" fill="#b3666e">UNITED STATES</text><path d="M1080.6,596 V603 M1099,599.2 H1110" stroke="#b3666e" stroke-width="1.1"/><text x="1172" y="754.5" font-family="Liberation Sans,sans-serif" font-size="10" fill="#7fa0c8">G</text><text x="1172" y="769" font-family="Liberation Sans,sans-serif" font-size="10" fill="#7f9fc6">Mexico</text><circle cx="914.9" cy="508.5" r="10.9" fill="#128cff" stroke="#0c5cab" stroke-width="1.25"/><circle cx="1049.5" cy="611.7" r="11.3" fill="#128cff" stroke="#0c5cab" stroke-width="1.25"/><circle cx="923.6" cy="632.2" r="18.9" fill="#128cff" stroke="#0c5cab" stroke-width="1.25"/><circle cx="1151.2" cy="522.4" r="12.7" fill="#128cff" stroke="#0c5cab" stroke-width="1.25"/><circle cx="1227.3" cy="541.4" r="7.699999999999999" fill="#128cff" stroke="#0c5cab" stroke-width="1.25"/><circle cx="1196.5" cy="599.1" r="11.6" fill="#128cff" stroke="#0c5cab" stroke-width="1.25"/><circle cx="1254.5" cy="595.8" r="14.0" fill="#128cff" stroke="#0c5cab" stroke-width="1.25"/><circle cx="1297.1" cy="590" r="19.8" fill="#128cff" stroke="#0c5cab" stroke-width="1.25"/><circle cx="1326" cy="599.1" r="12.7" fill="#128cff" stroke="#0c5cab" stroke-width="1.25"/><circle cx="1317.9" cy="565.5" r="18.5" fill="#128cff" stroke="#0c5cab" stroke-width="1.25"/><circle cx="1166.6" cy="619.5" r="13.1" fill="#128cff" stroke="#0c5cab" stroke-width="1.25"/><circle cx="1272.6" cy="616.8" r="8.9" fill="#128cff" stroke="#0c5cab" stroke-width="1.25"/><circle cx="1044.4" cy="660.3" r="11.3" fill="#128cff" stroke="#0c5cab" stroke-width="1.25"/><circle cx="1122.2" cy="650.3" r="11.8" fill="#128cff" stroke="#0c5cab" stroke-width="1.25"/><circle cx="1285.8" cy="651.2" r="11.6" fill="#128cff" stroke="#0c5cab" stroke-width="1.25"/><circle cx="1270.4" cy="669.3" r="9.5" fill="#128cff" stroke="#0c5cab" stroke-width="1.25"/><circle cx="1256.3" cy="725" r="14.5" fill="#128cff" stroke="#0c5cab" stroke-width="1.25"/></g></svg>
<div class="abs" style="left:1014px;top:659px;width:235px;height:89px;background:#fff;box-shadow:0 0 7px rgba(0,0,0,.28)"></div><svg style="left:0;top:0" width="1380" height="866"><path d="M1248.5,723.8 L1256.4,732 L1248.5,740.2 Z" fill="#fff"/></svg><div class="t" style="left:1034.07px;top:685.29px;font-size:16.2px;color:#333;transform:scaleX(0.9950);">State Province</div>
<div class="t" style="left:1152.90px;top:685.29px;font-size:16.2px;color:#333;transform:scaleX(1.0067);">Florida</div>
<div class="t" style="left:1041.35px;top:708.89px;font-size:16.2px;color:#333;transform:scaleX(1.0353);">Sum of Profit</div>
<div class="t" style="left:1153.40px;top:708.89px;font-size:16.2px;color:#333;transform:scaleX(0.9909);">2864044.8</div>
<div class="t" style="left:1178.16px;top:747.24px;font-size:9.4px;color:#111;transform:scaleX(1.0269);text-shadow:0 0 1.5px #fff,0 0 1.5px #fff,0 0 2px #fff;">©2026 TomTom</div>
<div class="t" style="left:1251.06px;top:747.24px;font-size:9.4px;color:#111;transform:scaleX(1.0158);text-shadow:0 0 1.5px #fff,0 0 1.5px #fff,0 0 2px #fff;">©2026 OSM</div>
<div class="t" style="left:1307.25px;top:747.24px;font-size:9.4px;color:#111;transform:scaleX(0.9936);text-shadow:0 0 1.5px #fff,0 0 1.5px #fff,0 0 2px #fff;border-bottom:1px solid #333;padding-bottom:1.2px;">Feedback</div>
<div class="abs" style="left:1275px;top:395px;width:31px;height:27.9px;background:#fff"></div><div class="abs" style="left:1310px;top:395px;width:30px;height:27.9px;background:#fff"></div><div class="abs" style="left:1343.8px;top:395px;width:31px;height:27.9px;background:#fff"></div><svg style="left:0;top:0" width="1380" height="866"><g fill="none" stroke="#7c7a78" stroke-width="1.25"><path d="M1280.6,401.8 H1300 L1292.4,410.8 V418.2 H1288.3 V410.8 Z"/><path d="M1324.6,404.3 H1316.4 V418.1 H1333.4 V411.7 M1316.4,411.7 H1324.6 V418.1 M1326.9,410 L1333,404.4 M1327,404.3 H1333.2 V410.2"/></g><g fill="#6b6967"><circle cx="1351.7" cy="409" r="1.45"/><circle cx="1359.2" cy="409" r="1.45"/><circle cx="1366.8" cy="409" r="1.45"/></g></svg>
<div class="abs" style="left:1375px;top:5px;width:5px;height:807px;background:#fff;border-left:1px solid #c8c6c4;box-sizing:border-box"></div></body></html>
